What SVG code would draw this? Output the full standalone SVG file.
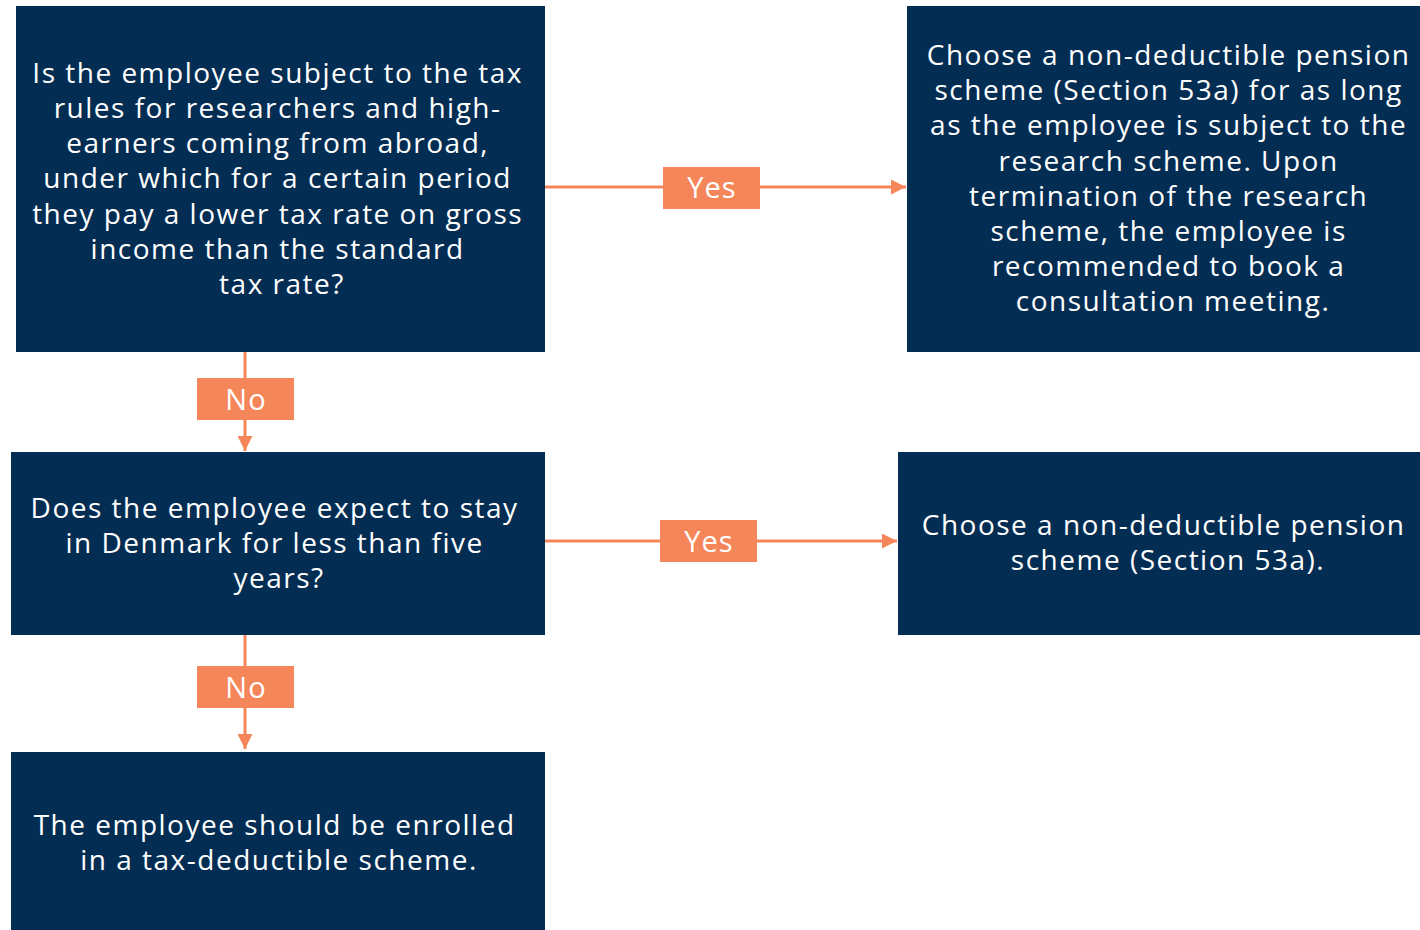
<svg xmlns="http://www.w3.org/2000/svg" width="1420" height="930" viewBox="0 0 1420 930">
  <style>
    .box { fill: #032d53; }
    .txt { font-family: "Open Sans", "Liberation Sans", sans-serif; font-size: 28px; fill: #ffffff; text-anchor: middle; letter-spacing: 1.5px; }
    .edge { stroke: #f5865a; stroke-width: 3; fill: none; }
    .tag { fill: #f5865a; }
    .tagtxt { font-family: "Open Sans", "Liberation Sans", sans-serif; font-size: 29px; fill: #ffffff; text-anchor: middle; letter-spacing: 1px; }
  </style>
  <defs>
    <marker id="arrow" viewBox="0 0 10 10" refX="10" refY="5" markerWidth="5" markerHeight="5" markerUnits="strokeWidth" orient="auto">
      <path d="M0,0 L10,5 L0,10 z" fill="#f5865a"/>
    </marker>
  </defs>

  <!-- connectors and their yes/no tags -->
  <g id="connectors">
    <path class="edge" d="M545,187 H906" marker-end="url(#arrow)"/>
    <path class="edge" d="M545,541 H897" marker-end="url(#arrow)"/>
    <path class="edge" d="M245,352 V451" marker-end="url(#arrow)"/>
    <path class="edge" d="M245,635 V749" marker-end="url(#arrow)"/>
    <rect class="tag" x="663" y="167" width="97" height="42"/>
    <text class="tagtxt" x="712" y="198">Yes</text>
    <rect class="tag" x="660" y="520" width="97" height="42"/>
    <text class="tagtxt" x="709" y="552">Yes</text>
    <rect class="tag" x="197" y="378" width="97" height="42"/>
    <text class="tagtxt" x="246" y="410">No</text>
    <rect class="tag" x="197" y="666" width="97" height="42"/>
    <text class="tagtxt" x="246" y="698">No</text>
  </g>

  <g id="q-research-scheme">
    <rect class="box" x="16" y="6" width="529" height="346"/>
    <text class="txt">
      <tspan x="282" y="83">Is the employee subject to the tax</tspan>
      <tspan x="282" y="118">rules for researchers and high-</tspan>
      <tspan x="282" y="153">earners coming from abroad,</tspan>
      <tspan x="282" y="188">under which for a certain period</tspan>
      <tspan x="282" y="224">they pay a lower tax rate on gross</tspan>
      <tspan x="282" y="259">income than the standard</tspan>
      <tspan x="282" y="294">tax rate?</tspan>
    </text>
  </g>

  <g id="a-research-scheme">
    <rect class="box" x="907" y="6" width="513" height="346"/>
    <text class="txt">
      <tspan x="1173" y="65">Choose a non-deductible pension</tspan>
      <tspan x="1173" y="100">scheme (Section 53a) for as long</tspan>
      <tspan x="1173" y="135">as the employee is subject to the</tspan>
      <tspan x="1173" y="171">research scheme. Upon</tspan>
      <tspan x="1173" y="206">termination of the research</tspan>
      <tspan x="1173" y="241">scheme, the employee is</tspan>
      <tspan x="1173" y="276">recommended to book a</tspan>
      <tspan x="1173" y="311">consultation meeting.</tspan>
    </text>
  </g>

  <g id="q-five-years">
    <rect class="box" x="11" y="452" width="534" height="183"/>
    <text class="txt">
      <tspan x="279" y="518">Does the employee expect to stay</tspan>
      <tspan x="279" y="553">in Denmark for less than five</tspan>
      <tspan x="279" y="588">years?</tspan>
    </text>
  </g>

  <g id="a-five-years">
    <rect class="box" x="898" y="452" width="522" height="183"/>
    <text class="txt">
      <tspan x="1168" y="535">Choose a non-deductible pension</tspan>
      <tspan x="1168" y="570">scheme (Section 53a).</tspan>
    </text>
  </g>

  <g id="tax-deductible">
    <rect class="box" x="11" y="752" width="534" height="178"/>
    <text class="txt">
      <tspan x="279" y="835">The employee should be enrolled</tspan>
      <tspan x="279" y="870">in a tax-deductible scheme.</tspan>
    </text>
  </g>
</svg>
